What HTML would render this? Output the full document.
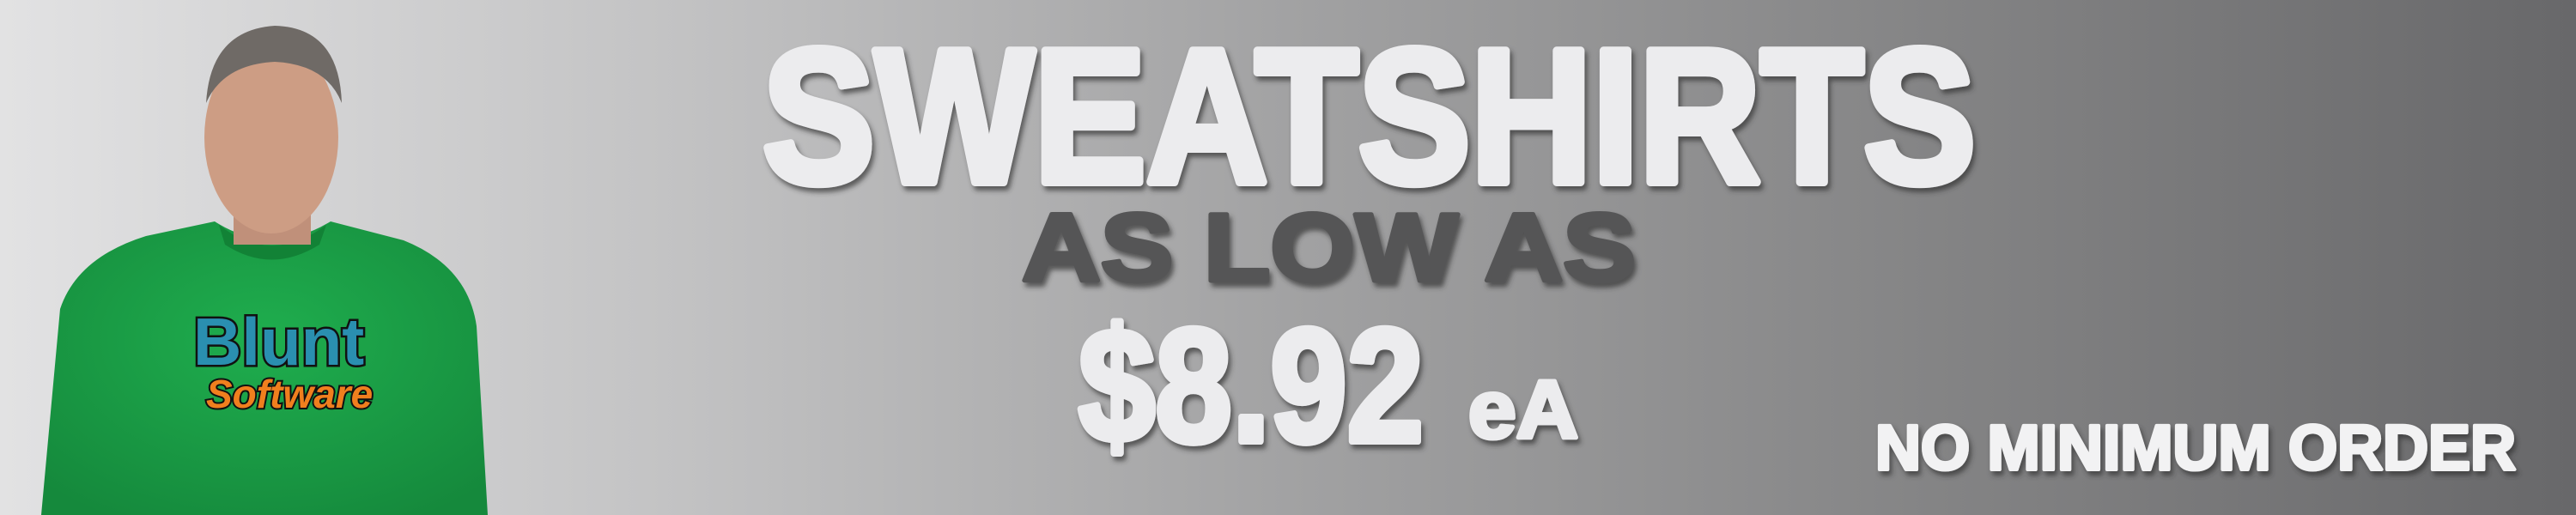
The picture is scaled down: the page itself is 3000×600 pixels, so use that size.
<!DOCTYPE html>
<html><head><meta charset="utf-8"><style>
html,body{margin:0;padding:0;width:3000px;height:600px;overflow:hidden}
svg{display:block}
</style></head><body>
<svg width="3000" height="600" viewBox="0 0 3000 600">
<defs>
<linearGradient id="bg" x1="0" y1="0" x2="1" y2="0">
<stop offset="0" stop-color="#e2e2e3"/>
<stop offset="0.25" stop-color="#c4c4c5"/>
<stop offset="0.5" stop-color="#a2a2a3"/>
<stop offset="0.75" stop-color="#848485"/>
<stop offset="1" stop-color="#68686a"/>
</linearGradient>
<radialGradient id="shirt" cx="0.5" cy="0.4" r="0.7">
<stop offset="0" stop-color="#1fae4e"/><stop offset="1" stop-color="#15893c"/>
</radialGradient>
<filter id="sh" x="-5%" y="-10%" width="110%" height="130%"><feDropShadow dx="3" dy="5" stdDeviation="3" flood-color="#333" flood-opacity="0.7"/></filter>
</defs>
<rect width="3000" height="600" fill="url(#bg)"/>
<g>
<path d="M48 600 L70 360 Q90 300 170 275 L250 258 Q316 300 385 258 L470 280 Q545 310 555 380 L568 600 Z" fill="url(#shirt)"/>
<path d="M255 262 Q316 310 380 262 L372 285 Q316 320 262 285 Z" fill="#128236"/>
<rect x="272" y="215" width="90" height="70" fill="#c0907a"/>
<ellipse cx="316" cy="160" rx="78" ry="112" fill="#cd9d84"/>
<path d="M240 120 Q245 35 320 30 Q395 32 398 120 Q380 75 320 72 Q260 75 240 120 Z" fill="#6f6a66"/>
<text x="225" y="425" font-family="Liberation Sans, sans-serif" font-weight="900" font-size="78" fill="#2a8fb0" stroke="#111" stroke-width="5" paint-order="stroke">Blunt</text>
<text x="240" y="475" font-family="Liberation Sans, sans-serif" font-style="italic" font-weight="700" font-size="46" fill="#f07f1e" stroke="#111" stroke-width="4" paint-order="stroke">Software</text>
</g>
<g font-family="Liberation Sans, sans-serif" font-weight="900" filter="url(#sh)">
<text x="888" y="212" font-size="222" textLength="1413" lengthAdjust="spacingAndGlyphs" fill="#ececee" stroke="#ececee" stroke-width="10" stroke-linejoin="round">SWEATSHIRTS</text>
<text x="1190" y="327" font-size="112" textLength="715" lengthAdjust="spacingAndGlyphs" fill="#555556" stroke="#555556" stroke-width="5" stroke-linejoin="round">AS LOW AS</text>
<text x="1256" y="514" font-size="188" textLength="402" lengthAdjust="spacingAndGlyphs" fill="#ececee" stroke="#ececee" stroke-width="8" stroke-linejoin="round">$8.92</text>
<text x="1710" y="510" font-size="96" textLength="128" lengthAdjust="spacingAndGlyphs" fill="#ececee" stroke="#ececee" stroke-width="5" stroke-linejoin="round">eA</text>
<text x="2184" y="547" font-size="74" textLength="746" lengthAdjust="spacingAndGlyphs" fill="#f2f2f3" stroke="#f2f2f3" stroke-width="4" stroke-linejoin="round">NO MINIMUM ORDER</text>
</g>
</svg>
</body></html>
